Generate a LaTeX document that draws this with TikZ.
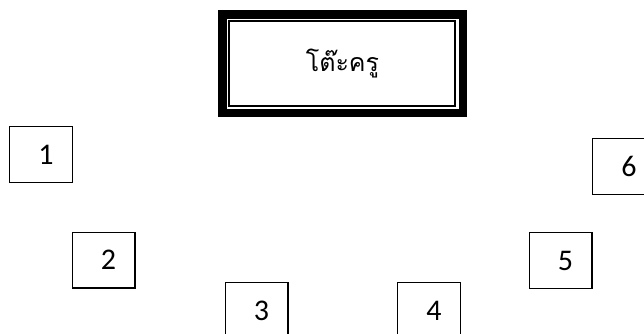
\documentclass[tikz,border=0pt]{standalone}
\usepackage{fontspec}
\setmainfont{Carlito}
\newfontfamily\thaifont[Script=Thai]{Loma}
\usepackage{tikz}

\begin{document}
\begin{tikzpicture}[x=1pt,y=-1pt,
    seat/.style={draw,line width=1.2pt,minimum width=62.8pt,minimum height=55.8pt,inner sep=0pt,
      execute at begin node=\hspace*{10pt},font=\fontsize{30}{30}\selectfont},
    desk/.style={draw,line width=8.5pt,outer sep=0pt,minimum width=240.5pt,minimum height=98pt,
      font=\thaifont\fontsize{25}{25}\selectfont}]
  \useasboundingbox (0,0) rectangle (644,334);
  % teacher's desk
  \node[desk] (desk) at (342.5,63.75) {โต๊ะครู};
  \draw[line width=2pt] ([shift={(7,6.5)}]desk.north west) rectangle ([shift={(-8,-6.5)}]desk.south east);
  % seats
  \node[seat] (s1) at (41,154.5) {1};
  \node[seat] (s2) at (103.5,260) {2};
  \node[seat] (s3) at (256.5,310.5) {3};
  \node[seat] (s4) at (429,310.5) {4};
  \node[seat] (s5) at (560.5,260.5) {5};
  \node[seat] (s6) at (624,166.5) {6};
\end{tikzpicture}
\end{document}
